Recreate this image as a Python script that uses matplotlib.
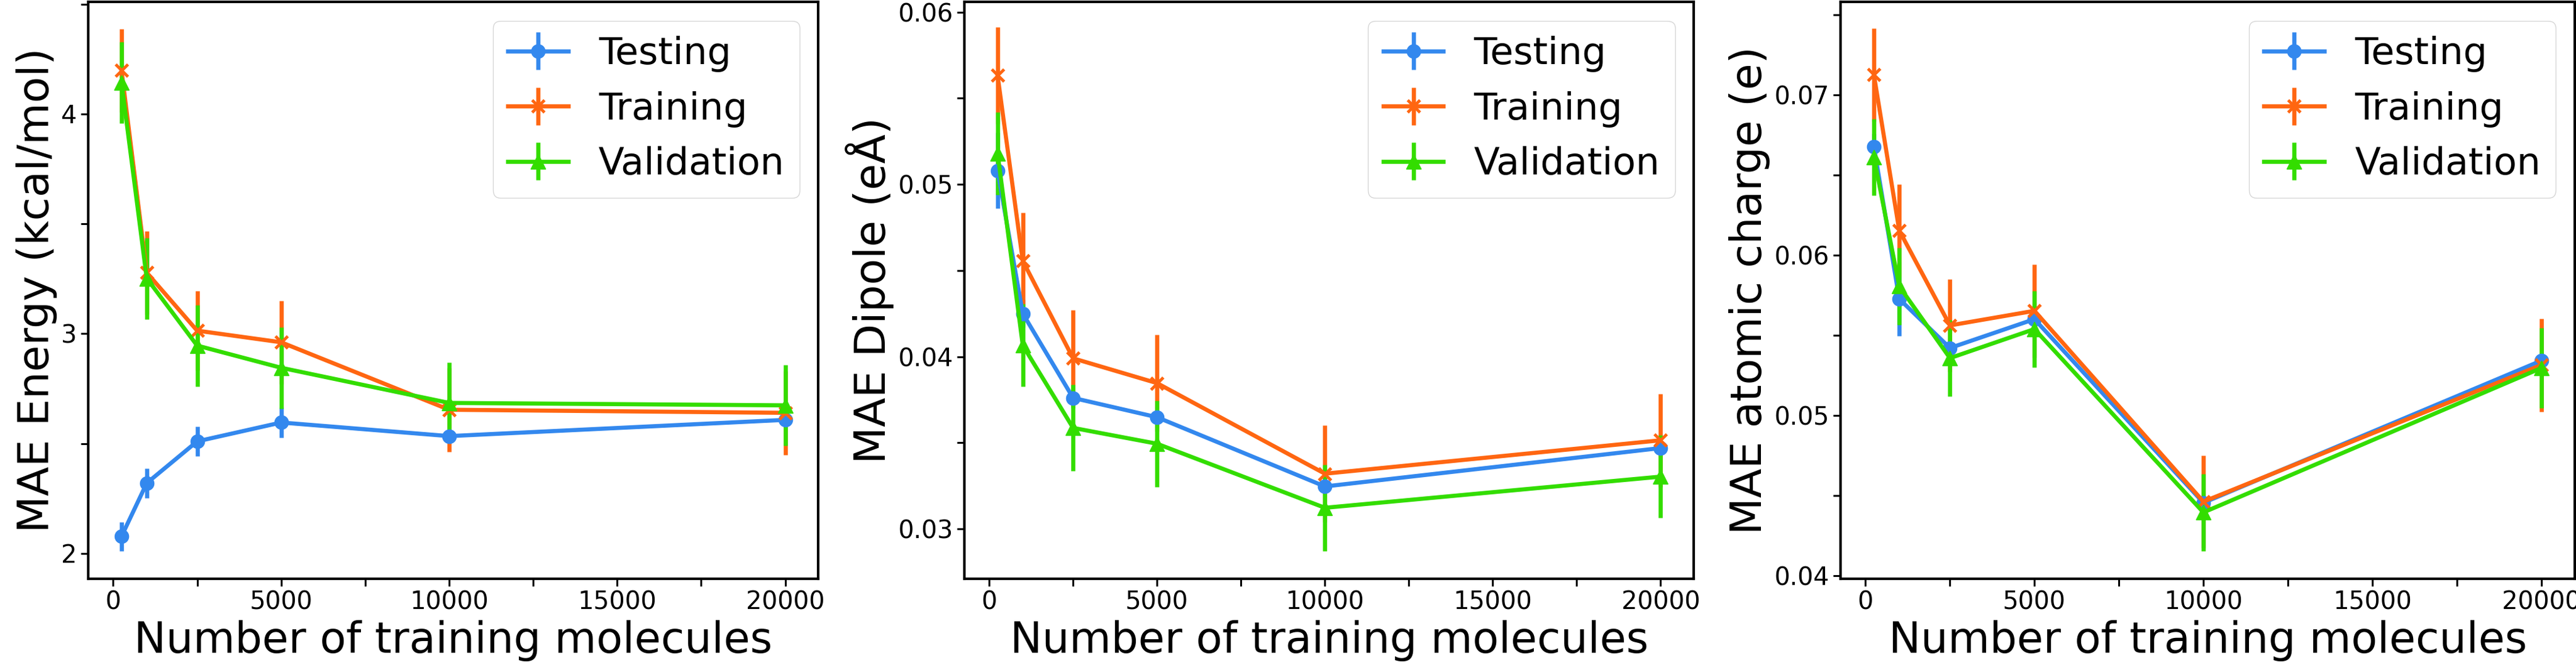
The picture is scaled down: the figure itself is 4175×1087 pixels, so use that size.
import matplotlib
matplotlib.use("Agg")
import matplotlib.pyplot as plt

# training set sizes
n_train = [250, 1000, 2500, 5000, 10000, 20000]

# energy (kcal/mol)
energy_test = [2.078, 2.32, 2.51, 2.596, 2.534, 2.608]
energy_test_err = [0.066, 0.068, 0.068, 0.068, 0.03, 0.03]
energy_train = [4.198, 3.278, 3.014, 2.961, 2.654, 2.64]
energy_train_err = [0.19, 0.19, 0.18, 0.19, 0.19, 0.19]
energy_val = [4.142, 3.252, 2.946, 2.845, 2.685, 2.674]
energy_val_err = [0.185, 0.185, 0.185, 0.185, 0.183, 0.184]

# dipole (eÅ)
dipole_test = [0.0508, 0.0425, 0.0376, 0.03648, 0.03246, 0.03469]
dipole_test_err = [0.0022, 0.0008, 0.0006, 0.0006, 0.0005, 0.0005]
dipole_train = [0.05633, 0.04556, 0.0399, 0.03846, 0.0332, 0.03514]
dipole_train_err = [0.0028, 0.0028, 0.0028, 0.0028, 0.0028, 0.0027]
dipole_val = [0.05181, 0.04065, 0.03586, 0.03494, 0.03122, 0.03303]
dipole_val_err = [0.0024, 0.0024, 0.0025, 0.0025, 0.0025, 0.0024]

# atomic charge (e)
charge_test = [0.06677, 0.05726, 0.0542, 0.056, 0.04454, 0.05341]
charge_test_err = [0.0008, 0.0023, 0.0006, 0.0006, 0.0005, 0.0005]
charge_train = [0.07125, 0.06153, 0.05561, 0.05652, 0.04461, 0.05314]
charge_train_err = [0.0029, 0.0029, 0.0029, 0.0029, 0.0029, 0.0029]
charge_val = [0.06611, 0.05805, 0.05357, 0.05538, 0.04394, 0.05295]
charge_val_err = [0.0024, 0.0024, 0.0024, 0.0024, 0.0024, 0.0025]

ylabels = ["MAE Energy (kcal/mol)", "MAE Dipole (eÅ)", "MAE atomic charge (e)"]

c_test = "#3388ee"
c_train = "#ff6611"
c_val = "#33dd00"

fig = plt.figure(figsize=(41.75, 10.87), dpi=100)
lefts = [0.0343, 0.3744, 0.7145]
widths = [0.2834, 0.2831, 0.2850]

panels = [
    (energy_test, energy_test_err, energy_train, energy_train_err, energy_val, energy_val_err),
    (dipole_test, dipole_test_err, dipole_train, dipole_train_err, dipole_val, dipole_val_err),
    (charge_test, charge_test_err, charge_train, charge_train_err, charge_val, charge_val_err),
]
ylims = [(1.885, 4.51), (0.0271, 0.0606), (0.0398, 0.0758)]
yticks = [
    [2, 2.5, 3, 3.5, 4, 4.5],
    [0.03, 0.035, 0.04, 0.045, 0.05, 0.055, 0.06],
    [0.04, 0.045, 0.05, 0.055, 0.06, 0.065, 0.07, 0.075],
]
yticklabels = [
    ["2", "", "3", "", "4", ""],
    ["0.03", "", "0.04", "", "0.05", "", "0.06"],
    ["0.04", "", "0.05", "", "0.06", "", "0.07", ""],
]
xticks = [0, 2500, 5000, 7500, 10000, 12500, 15000, 17500, 20000]
xticklabels = ["0", "", "5000", "", "10000", "", "15000", "", "20000"]

for i in range(3):
    ax = fig.add_axes([lefts[i], 0.1362, widths[i], 0.861])
    t, te, tr, tre, v, ve = panels[i]
    lw = 4.8
    ax.errorbar(n_train, t, yerr=te, color=c_test, marker="o", ms=16, lw=lw, elinewidth=lw, label="Testing")
    ax.errorbar(n_train, tr, yerr=tre, color=c_train, marker="x", ms=15, mew=3.5, lw=lw, elinewidth=lw, label="Training")
    ax.errorbar(n_train, v, yerr=ve, color=c_val, marker="^", ms=17, lw=lw, elinewidth=lw, label="Validation")
    ax.set_xlim(-737, 20987)
    ax.set_ylim(*ylims[i])
    ax.set_xticks(xticks)
    ax.set_xticklabels(xticklabels)
    ax.set_yticks(yticks[i])
    ax.set_yticklabels(yticklabels[i])
    ax.tick_params(labelsize=29, length=8.5, width=2.2, pad=5)
    for s in ax.spines.values():
        s.set_linewidth(3)
    ax.set_xlabel("Number of training molecules", fontsize=50, labelpad=6)
    ax.set_ylabel(ylabels[i], fontsize=50)
    ax.legend(loc="upper right", fontsize=44, borderaxespad=0.5, handlelength=1.6)

fig.savefig("out.png", dpi=100)
